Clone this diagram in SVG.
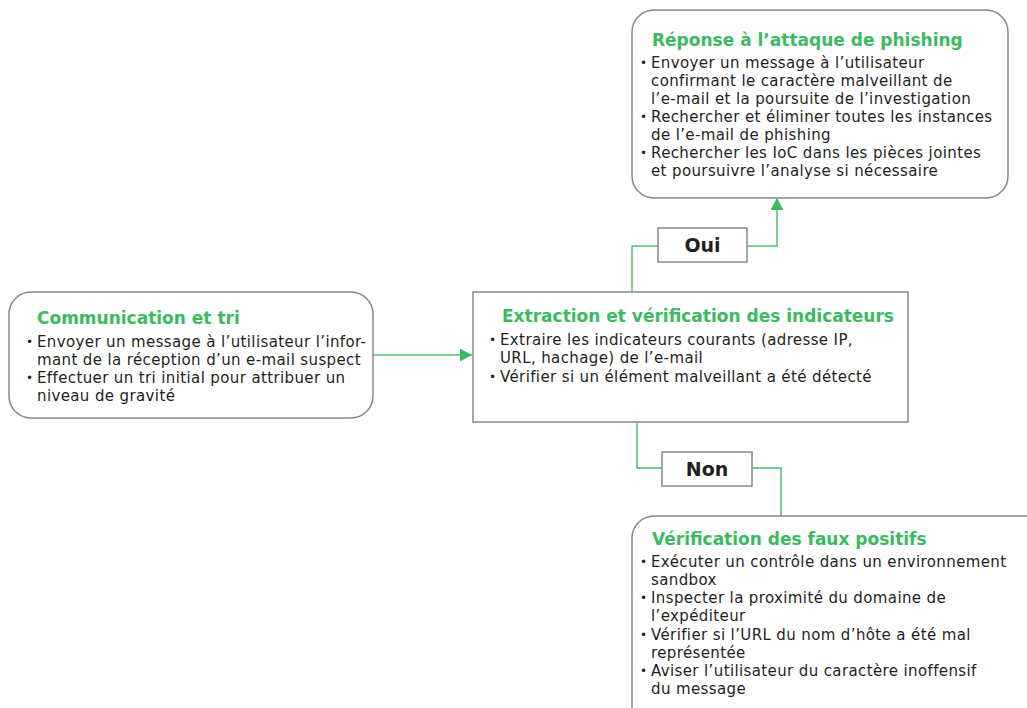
<svg xmlns="http://www.w3.org/2000/svg" width="1027" height="708" viewBox="0 0 1027 708">
<defs>
<style>
.box{fill:#fff;stroke:#888;stroke-width:1.5}
.t{font-family:"DejaVu Sans","Liberation Sans",sans-serif;font-weight:700;font-size:17px;fill:#3cba62}
.b{font-family:"DejaVu Sans","Liberation Sans",sans-serif;font-size:15px;letter-spacing:0.38px;fill:#231f20}
.d{font-size:12px}
.lbl{font-family:"DejaVu Sans","Liberation Sans",sans-serif;font-weight:700;font-size:19px;fill:#231f20}
.c{fill:none;stroke:#4cc170;stroke-width:1.5}
</style>
<marker id="ah" viewBox="0 0 12 13" refX="12" refY="6.5" markerWidth="12" markerHeight="13" markerUnits="userSpaceOnUse" orient="auto"><path d="M0,0 L12,6.5 L0,13 z" fill="#3cba62"/></marker>
</defs>
<rect width="1027" height="708" fill="#fff"/>
<g id="connectors">
<path class="c" d="M373,355 H472" marker-end="url(#ah)"/>
<path class="c" d="M632,292 V246 H658"/>
<path class="c" d="M747,246 H777 V198" marker-end="url(#ah)"/>
<path class="c" d="M637,422 V468 H662"/>
<path class="c" d="M752,468 H781 V516"/>
</g>
<g id="label-oui">
<rect class="box" x="658" y="228" width="89" height="34"/>
<text class="lbl" x="702.5" y="252" text-anchor="middle">Oui</text>
</g>
<g id="label-non">
<rect class="box" x="662" y="452" width="90" height="34"/>
<text class="lbl" x="707" y="476" text-anchor="middle">Non</text>
</g>
<g id="node-reponse">
<rect class="box" x="632" y="10" width="376" height="188" rx="22"/>
<text class="t" x="652" y="46">Réponse à l’attaque de phishing</text>
<text class="b"><tspan class="d" x="640" y="67">•</tspan><tspan x="651" y="68">Envoyer un message à l’utilisateur</tspan><tspan x="651" y="86">confirmant le caractère malveillant de</tspan><tspan x="651" y="104">l’e-mail et la poursuite de l’investigation</tspan><tspan class="d" x="640" y="121">•</tspan><tspan x="651" y="122">Rechercher et éliminer toutes les instances</tspan><tspan x="651" y="140">de l’e-mail de phishing</tspan><tspan class="d" x="640" y="157">•</tspan><tspan x="651" y="158">Rechercher les IoC dans les pièces jointes</tspan><tspan x="651" y="176">et poursuivre l’analyse si nécessaire</tspan></text>
</g>
<g id="node-communication">
<rect class="box" x="9" y="292" width="364" height="126" rx="22"/>
<text class="t" x="37" y="324">Communication et tri</text>
<text class="b"><tspan class="d" x="26" y="346">•</tspan><tspan x="37" y="347">Envoyer un message à l’utilisateur l’infor-</tspan><tspan x="37" y="365">mant de la réception d’un e-mail suspect</tspan><tspan class="d" x="26" y="382">•</tspan><tspan x="37" y="383">Effectuer un tri initial pour attribuer un</tspan><tspan x="37" y="401">niveau de gravité</tspan></text>
</g>
<g id="node-extraction">
<rect class="box" x="473" y="292" width="435" height="130"/>
<text class="t" x="502" y="322">Extraction et vérification des indicateurs</text>
<text class="b"><tspan class="d" x="489" y="344">•</tspan><tspan x="500" y="345">Extraire les indicateurs courants (adresse IP,</tspan><tspan x="500" y="363">URL, hachage) de l’e-mail</tspan><tspan class="d" x="489" y="381">•</tspan><tspan x="500" y="382">Vérifier si un élément malveillant a été détecté</tspan></text>
</g>
<g id="node-verification">
<rect class="box" x="632" y="516" width="420" height="220" rx="22"/>
<text class="t" x="652" y="545">Vérification des faux positifs</text>
<text class="b"><tspan class="d" x="640" y="566">•</tspan><tspan x="651" y="567">Exécuter un contrôle dans un environnement</tspan><tspan x="651" y="585">sandbox</tspan><tspan class="d" x="640" y="602">•</tspan><tspan x="651" y="603">Inspecter la proximité du domaine de</tspan><tspan x="651" y="621">l’expéditeur</tspan><tspan class="d" x="640" y="639">•</tspan><tspan x="651" y="640">Vérifier si l’URL du nom d’hôte a été mal</tspan><tspan x="651" y="658">représentée</tspan><tspan class="d" x="640" y="675">•</tspan><tspan x="651" y="676">Aviser l’utilisateur du caractère inoffensif</tspan><tspan x="651" y="694">du message</tspan></text>
</g>
</svg>
